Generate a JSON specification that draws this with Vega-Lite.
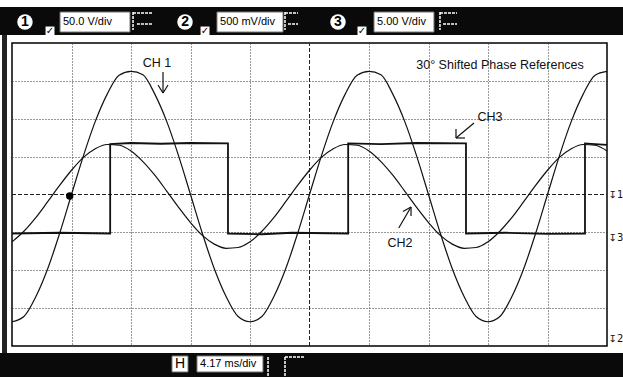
{
  "$schema": "https://vega.github.io/schema/vega-lite/v6.json",
  "width": 595,
  "height": 303,
  "autosize": {"type": "none"},
  "padding": {"left": 12, "top": 43, "right": 16, "bottom": 31},
  "background": "#ffffff",
  "config": {"view": {"stroke": "#000000", "strokeWidth": 1.5}, "font": "Liberation Sans"},
  "datasets": {
    "bars": [
      {"d": -0.4, "d2": 10.5, "v": 4.211, "v2": 4.95},
      {"d": -0.4, "d2": 10.5, "v": -4.185, "v2": -5.2}
    ],
    "leftstrip": [
      {"d": -0.168, "d2": -0.084, "v": 4.211, "v2": -4.185}
    ],
    "boxes": [
      {"d": 0.807, "d2": 1.983, "v": 4.818, "v2": 4.29},
      {"d": 3.445, "d2": 4.555, "v": 4.818, "v2": 4.29},
      {"d": 6.084, "d2": 7.092, "v": 4.818, "v2": 4.29},
      {"d": 2.689, "d2": 2.958, "v": -4.264, "v2": -4.686},
      {"d": 3.109, "d2": 4.218, "v": -4.264, "v2": -4.686}
    ],
    "boxtext": [
      {"d": 0.857, "v": 4.554, "t": "50.0 V/div"},
      {"d": 3.496, "v": 4.554, "t": "500 mV/div"},
      {"d": 6.134, "v": 4.554, "t": "5.00 V/div"},
      {"d": 3.16, "v": -4.475, "t": "4.17 ms/div"}
    ],
    "hbox": [
      {"d": 2.824, "v": -4.475, "t": "H"}
    ],
    "circles": [
      {"d": 0.218, "v": 4.554, "t": "1"},
      {"d": 2.908, "v": 4.554, "t": "2"},
      {"d": 5.479, "v": 4.554, "t": "3"}
    ],
    "checks": [
      {"d": 0.639, "v": 4.317},
      {"d": 3.244, "v": 4.317},
      {"d": 5.882, "v": 4.317}
    ],
    "uirules": [
      {"d": 2.034, "v": 4.818, "d2": 2.034, "v2": 4.343},
      {"d": 2.034, "v": 4.79, "d2": 2.37, "v2": 4.79},
      {"d": 2.1, "v": 4.5, "d2": 2.37, "v2": 4.5},
      {"d": 4.588, "v": 4.818, "d2": 4.588, "v2": 4.343},
      {"d": 4.588, "v": 4.79, "d2": 4.807, "v2": 4.79},
      {"d": 4.639, "v": 4.5, "d2": 4.807, "v2": 4.5},
      {"d": 7.193, "v": 4.818, "d2": 7.193, "v2": 4.343},
      {"d": 7.193, "v": 4.79, "d2": 7.479, "v2": 4.79},
      {"d": 7.244, "v": 4.5, "d2": 7.479, "v2": 4.5},
      {"d": 4.303, "v": -4.29, "d2": 4.303, "v2": -4.9},
      {"d": 4.588, "v": -4.29, "d2": 4.588, "v2": -4.9},
      {"d": 4.588, "v": -4.29, "d2": 4.924, "v2": -4.29}
    ],
    "centerlines": [
      {"d": 0, "v": 0, "d2": 10, "v2": 0},
      {"d": 5, "v": -4, "d2": 5, "v2": 4}
    ],
    "hticks": [
      {"d": 0.2}, {"d": 0.4}, {"d": 0.6}, {"d": 0.8}, {"d": 1.0}, {"d": 1.2}, {"d": 1.4}, {"d": 1.6}, {"d": 1.8}, {"d": 2.0},
      {"d": 2.2}, {"d": 2.4}, {"d": 2.6}, {"d": 2.8}, {"d": 3.0}, {"d": 3.2}, {"d": 3.4}, {"d": 3.6}, {"d": 3.8}, {"d": 4.0},
      {"d": 4.2}, {"d": 4.4}, {"d": 4.6}, {"d": 4.8}, {"d": 5.0}, {"d": 5.2}, {"d": 5.4}, {"d": 5.6}, {"d": 5.8}, {"d": 6.0},
      {"d": 6.2}, {"d": 6.4}, {"d": 6.6}, {"d": 6.8}, {"d": 7.0}, {"d": 7.2}, {"d": 7.4}, {"d": 7.6}, {"d": 7.8}, {"d": 8.0},
      {"d": 8.2}, {"d": 8.4}, {"d": 8.6}, {"d": 8.8}, {"d": 9.0}, {"d": 9.2}, {"d": 9.4}, {"d": 9.6}, {"d": 9.8}
    ],
    "vticks": [
      {"v": -3.8}, {"v": -3.6}, {"v": -3.4}, {"v": -3.2}, {"v": -3.0}, {"v": -2.8}, {"v": -2.6}, {"v": -2.4}, {"v": -2.2}, {"v": -2.0},
      {"v": -1.8}, {"v": -1.6}, {"v": -1.4}, {"v": -1.2}, {"v": -1.0}, {"v": -0.8}, {"v": -0.6}, {"v": -0.4}, {"v": -0.2}, {"v": 0},
      {"v": 0.2}, {"v": 0.4}, {"v": 0.6}, {"v": 0.8}, {"v": 1.0}, {"v": 1.2}, {"v": 1.4}, {"v": 1.6}, {"v": 1.8}, {"v": 2.0},
      {"v": 2.2}, {"v": 2.4}, {"v": 2.6}, {"v": 2.8}, {"v": 3.0}, {"v": 3.2}, {"v": 3.4}, {"v": 3.6}, {"v": 3.8}
    ],
    "ch1": [
      {"d": 0, "v": -3.36}, {"d": 0.2, "v": -3.22}, {"d": 0.4, "v": -2.7}, {"d": 0.6, "v": -1.96}, {"d": 0.8, "v": -1.03},
      {"d": 1.0, "v": 0}, {"d": 1.2, "v": 1.02}, {"d": 1.4, "v": 1.93}, {"d": 1.6, "v": 2.65}, {"d": 1.8, "v": 3.15},
      {"d": 2.0, "v": 3.25}, {"d": 2.2, "v": 3.16}, {"d": 2.4, "v": 2.65}, {"d": 2.6, "v": 1.93}, {"d": 2.8, "v": 1.02},
      {"d": 3.0, "v": 0}, {"d": 3.2, "v": -1.03}, {"d": 3.4, "v": -1.96}, {"d": 3.6, "v": -2.7}, {"d": 3.8, "v": -3.22},
      {"d": 4.0, "v": -3.36}, {"d": 4.2, "v": -3.22}, {"d": 4.4, "v": -2.7}, {"d": 4.6, "v": -1.96}, {"d": 4.8, "v": -1.03},
      {"d": 5.0, "v": 0}, {"d": 5.2, "v": 1.02}, {"d": 5.4, "v": 1.93}, {"d": 5.6, "v": 2.65}, {"d": 5.8, "v": 3.15},
      {"d": 6.0, "v": 3.25}, {"d": 6.2, "v": 3.16}, {"d": 6.4, "v": 2.65}, {"d": 6.6, "v": 1.93}, {"d": 6.8, "v": 1.02},
      {"d": 7.0, "v": 0}, {"d": 7.2, "v": -1.03}, {"d": 7.4, "v": -1.96}, {"d": 7.6, "v": -2.7}, {"d": 7.8, "v": -3.22},
      {"d": 8.0, "v": -3.36}, {"d": 8.2, "v": -3.22}, {"d": 8.4, "v": -2.7}, {"d": 8.6, "v": -1.96}, {"d": 8.8, "v": -1.03},
      {"d": 9.0, "v": 0}, {"d": 9.2, "v": 1.02}, {"d": 9.4, "v": 1.93}, {"d": 9.6, "v": 2.65}, {"d": 9.8, "v": 3.15},
      {"d": 10.0, "v": 3.25}
    ],
    "ch2": [
      {"d": 0, "v": -1.25}, {"d": 0.2, "v": -0.97}, {"d": 0.4, "v": -0.61}, {"d": 0.6, "v": -0.19}, {"d": 0.8, "v": 0.24},
      {"d": 1.0, "v": 0.64}, {"d": 1.2, "v": 0.98}, {"d": 1.4, "v": 1.21}, {"d": 1.6, "v": 1.32}, {"d": 1.8, "v": 1.3},
      {"d": 2.0, "v": 1.15}, {"d": 2.2, "v": 0.87}, {"d": 2.4, "v": 0.51}, {"d": 2.6, "v": 0.09}, {"d": 2.8, "v": -0.34},
      {"d": 3.0, "v": -0.74}, {"d": 3.2, "v": -1.08}, {"d": 3.4, "v": -1.31}, {"d": 3.6, "v": -1.42}, {"d": 3.8, "v": -1.4},
      {"d": 4.0, "v": -1.25}, {"d": 4.2, "v": -0.97}, {"d": 4.4, "v": -0.61}, {"d": 4.6, "v": -0.19}, {"d": 4.8, "v": 0.24},
      {"d": 5.0, "v": 0.64}, {"d": 5.2, "v": 0.98}, {"d": 5.4, "v": 1.21}, {"d": 5.6, "v": 1.32}, {"d": 5.8, "v": 1.3},
      {"d": 6.0, "v": 1.15}, {"d": 6.2, "v": 0.87}, {"d": 6.4, "v": 0.51}, {"d": 6.6, "v": 0.09}, {"d": 6.8, "v": -0.34},
      {"d": 7.0, "v": -0.74}, {"d": 7.2, "v": -1.08}, {"d": 7.4, "v": -1.31}, {"d": 7.6, "v": -1.42}, {"d": 7.8, "v": -1.4},
      {"d": 8.0, "v": -1.25}, {"d": 8.2, "v": -0.97}, {"d": 8.4, "v": -0.61}, {"d": 8.6, "v": -0.19}, {"d": 8.8, "v": 0.24},
      {"d": 9.0, "v": 0.64}, {"d": 9.2, "v": 0.98}, {"d": 9.4, "v": 1.21}, {"d": 9.6, "v": 1.32}, {"d": 9.8, "v": 1.3},
      {"d": 10.0, "v": 1.15}
    ],
    "ch3": [
      {"i": 0, "d": 0, "v": -1.03}, {"i": 1, "d": 0.8, "v": -1.01}, {"i": 2, "d": 1.65, "v": -1.03},
      {"i": 3, "d": 1.65, "v": 1.33}, {"i": 4, "d": 2.0, "v": 1.36}, {"i": 5, "d": 2.5, "v": 1.34}, {"i": 6, "d": 3.0, "v": 1.36}, {"i": 7, "d": 3.63, "v": 1.35},
      {"i": 8, "d": 3.63, "v": -1.03}, {"i": 9, "d": 4.2, "v": -1.05}, {"i": 10, "d": 4.7, "v": -1.01}, {"i": 11, "d": 5.65, "v": -1.03},
      {"i": 12, "d": 5.65, "v": 1.35}, {"i": 13, "d": 6.2, "v": 1.33}, {"i": 14, "d": 6.8, "v": 1.36}, {"i": 15, "d": 7.63, "v": 1.35},
      {"i": 16, "d": 7.63, "v": -1.03}, {"i": 17, "d": 8.3, "v": -1.01}, {"i": 18, "d": 9.0, "v": -1.04}, {"i": 19, "d": 9.63, "v": -1.03},
      {"i": 20, "d": 9.63, "v": 1.35}, {"i": 21, "d": 9.8, "v": 1.33}, {"i": 22, "d": 10.0, "v": 1.31}
    ],
    "trigger": [
      {"d": 0.97, "v": -0.04}
    ],
    "arrows": [
      {"d": 2.538, "v": 3.234, "d2": 2.538, "v2": 2.68},
      {"d": 2.454, "v": 2.891, "d2": 2.538, "v2": 2.68},
      {"d": 2.622, "v": 2.891, "d2": 2.538, "v2": 2.68},
      {"d": 7.765, "v": 1.888, "d2": 7.462, "v2": 1.492},
      {"d": 7.462, "v": 1.73, "d2": 7.462, "v2": 1.492},
      {"d": 7.613, "v": 1.492, "d2": 7.462, "v2": 1.492},
      {"d": 6.5, "v": -0.884, "d2": 6.706, "v2": -0.33},
      {"d": 6.571, "v": -0.449, "d2": 6.706, "v2": -0.33},
      {"d": 6.706, "v": -0.568, "d2": 6.706, "v2": -0.33}
    ],
    "notes": [
      {"d": 2.437, "v": 3.472, "t": "CH 1"},
      {"d": 8.202, "v": 3.419, "t": "30° Shifted Phase References"},
      {"d": 8.034, "v": 2.046, "t": "CH3"},
      {"d": 6.521, "v": -1.281, "t": "CH2"}
    ],
    "markers": [
      {"d": 10.15, "v": 0, "t": "↧1"},
      {"d": 10.15, "v": -1.15, "t": "↧3"},
      {"d": 10.15, "v": -3.815, "t": "↧2"}
    ]
  },
  "encoding": {
    "x": {"field": "d", "type": "quantitative", "scale": {"domain": [0, 10], "nice": false, "zero": false},
      "axis": {"grid": true, "labels": false, "ticks": false, "domain": false, "title": null, "values": [1, 2, 3, 4, 6, 7, 8, 9], "gridDash": [1, 2], "gridColor": "#333333", "gridWidth": 1}},
    "y": {"field": "v", "type": "quantitative", "scale": {"domain": [-4, 4], "nice": false, "zero": false},
      "axis": {"grid": true, "labels": false, "ticks": false, "domain": false, "title": null, "values": [-3, -2, -1, 1, 2, 3], "gridDash": [1, 2], "gridColor": "#333333", "gridWidth": 1}}
  },
  "layer": [
    {"data": {"name": "bars"}, "mark": {"type": "rect", "color": "#0a0a0a"}, "encoding": {"x2": {"field": "d2"}, "y2": {"field": "v2"}}},
    {"data": {"name": "leftstrip"}, "mark": {"type": "rect", "color": "#222222"}, "encoding": {"x2": {"field": "d2"}, "y2": {"field": "v2"}}},
    {"data": {"name": "boxes"}, "mark": {"type": "rect", "fill": "#ffffff", "stroke": "#777777", "strokeWidth": 1}, "encoding": {"x2": {"field": "d2"}, "y2": {"field": "v2"}}},
    {"data": {"name": "boxtext"}, "mark": {"type": "text", "align": "left", "baseline": "middle", "fontSize": 11, "color": "#000000", "font": "Liberation Sans"}, "encoding": {"text": {"field": "t"}}},
    {"data": {"name": "hbox"}, "mark": {"type": "text", "align": "center", "baseline": "middle", "fontSize": 14, "color": "#000000", "font": "Liberation Sans"}, "encoding": {"text": {"field": "t"}}},
    {"data": {"name": "circles"}, "mark": {"type": "point", "shape": "circle", "filled": true, "fill": "#ffffff", "opacity": 1, "size": 240, "strokeWidth": 0}},
    {"data": {"name": "circles"}, "mark": {"type": "text", "align": "center", "baseline": "middle", "fontSize": 14, "fontWeight": "bold", "color": "#000000", "font": "Liberation Sans"}, "encoding": {"text": {"field": "t"}}},
    {"data": {"name": "checks"}, "mark": {"type": "point", "shape": "square", "filled": true, "fill": "#ffffff", "opacity": 1, "size": 80, "strokeWidth": 0}},
    {"data": {"name": "checks"}, "mark": {"type": "text", "text": "✓", "align": "center", "baseline": "middle", "fontSize": 10, "fontWeight": "bold", "color": "#000000", "font": "DejaVu Sans"}},
    {"data": {"name": "uirules"}, "mark": {"type": "rule", "color": "#ffffff", "strokeWidth": 1.5, "strokeDash": [3, 1]}, "encoding": {"x2": {"field": "d2"}, "y2": {"field": "v2"}}},
    {"data": {"name": "centerlines"}, "mark": {"type": "rule", "color": "#222222", "strokeWidth": 1, "strokeDash": [4, 2]}, "encoding": {"x2": {"field": "d2"}, "y2": {"field": "v2"}}},
    {"data": {"name": "hticks"}, "mark": {"type": "tick", "orient": "vertical", "color": "#222222", "size": 5, "thickness": 1}, "encoding": {"y": {"datum": 0, "type": "quantitative"}}},
    {"data": {"name": "vticks"}, "mark": {"type": "tick", "orient": "horizontal", "color": "#222222", "size": 5, "thickness": 1}, "encoding": {"x": {"datum": 5, "type": "quantitative"}}},
    {"data": {"name": "ch3"}, "mark": {"type": "line", "color": "#111111", "strokeWidth": 1.8, "interpolate": "linear"}, "encoding": {"order": {"field": "i", "type": "quantitative"}}},
    {"data": {"name": "ch2"}, "mark": {"type": "line", "color": "#111111", "strokeWidth": 1.2, "interpolate": "monotone"}},
    {"data": {"name": "ch1"}, "mark": {"type": "line", "color": "#111111", "strokeWidth": 1.2, "interpolate": "monotone"}},
    {"data": {"name": "trigger"}, "mark": {"type": "point", "shape": "circle", "filled": true, "color": "#000000", "opacity": 1, "size": 55}},
    {"data": {"name": "arrows"}, "mark": {"type": "rule", "color": "#111111", "strokeWidth": 1.2}, "encoding": {"x2": {"field": "d2"}, "y2": {"field": "v2"}}},
    {"data": {"name": "notes"}, "mark": {"type": "text", "align": "center", "baseline": "middle", "fontSize": 12.5, "color": "#111111", "font": "Liberation Sans"}, "encoding": {"text": {"field": "t"}}},
    {"data": {"name": "markers"}, "mark": {"type": "text", "align": "center", "baseline": "middle", "fontSize": 10, "color": "#111111", "font": "DejaVu Sans"}, "encoding": {"text": {"field": "t"}}}
  ]
}
